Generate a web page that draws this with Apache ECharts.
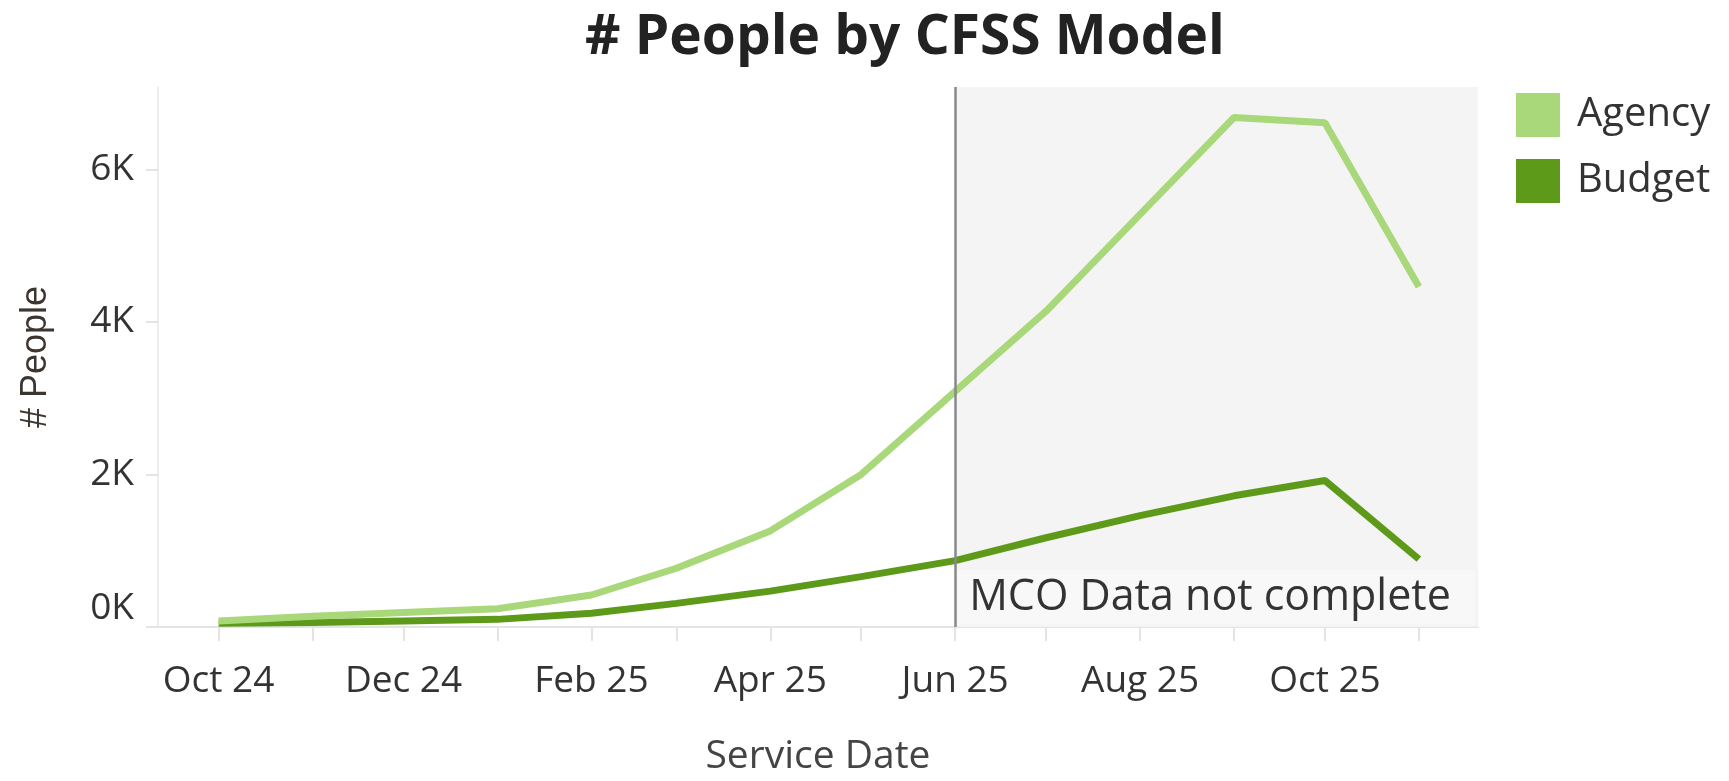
<!DOCTYPE html>
<html>
<head>
<meta charset="utf-8">
<title># People by CFSS Model</title>
<script src="https://cdn.jsdelivr.net/npm/echarts@6/dist/echarts.min.js"></script>
<style>
  html, body { margin: 0; padding: 0; background: #fff; }
  #chart { width: 1729px; height: 781px; }
</style>
</head>
<body>
<div id="chart"></div>
<script>
// months of service, first of each month
var months = ['2024-10', '2024-11', '2024-12', '2025-01', '2025-02', '2025-03', '2025-04',
  '2025-05', '2025-06', '2025-07', '2025-08', '2025-09', '2025-10', '2025-11']
var agency = [80, 140, 190, 240, 420, 770, 1260, 2000, 3090, 4140, 5410, 6680, 6610, 4460]
var budget = [50, 60, 80, 100, 180, 310, 470, 660, 870, 1170, 1460, 1720, 1920, 890]
var tickMonths = ['2024-10', '2024-12', '2025-02', '2025-04', '2025-06', '2025-08', '2025-10']
var yTicks = [0, 2000, 4000, 6000]
var mcoStart = '2025-06'
var monthNames = ['Jan', 'Feb', 'Mar', 'Apr', 'May', 'Jun', 'Jul', 'Aug', 'Sep', 'Oct', 'Nov', 'Dec']

function ts (m) {
  var p = m.split('-')
  return Date.UTC(+p[0], +p[1] - 1, 1)
}
function monthLabel (v) {
  var d = new Date(v)
  return monthNames[d.getUTCMonth()] + ' ' + String(d.getUTCFullYear()).slice(2)
}

var xMin = Date.UTC(2024, 8, 11)
var xMax = Date.UTC(2025, 10, 20, 12)
var font = 'Open Sans'

var chart = echarts.init(document.getElementById('chart'))
var option = {
  animation: false,
  title: {
    text: '# People by CFSS Model',
    left: 580,
    top: 6,
    textStyle: {
      fontFamily: font,
      fontSize: 55,
      fontWeight: 'bold',
      color: '#222'
    }
  },
  legend: {
    orient: 'vertical',
    left: 1511,
    top: 88,
    icon: 'rect',
    itemWidth: 44,
    itemHeight: 44,
    itemGap: 22,
    data: ['Agency', 'Budget'],
    textStyle: {
      fontFamily: font,
      fontSize: 40,
      color: '#333',
      padding: [0, 0, 0, 12]
    }
  },
  grid: {
    left: 158,
    right: 251,
    top: 87,
    bottom: 151
  },
  xAxis: {
    type: 'value',
    min: xMin,
    max: xMax,
    name: 'Service Date',
    nameLocation: 'middle',
    nameGap: 110,
    nameTextStyle: { fontFamily: font, fontSize: 39, color: '#444' },
    axisLine: { show: true, lineStyle: { color: '#e4e4e4', width: 2 } },
    axisTick: {
      show: true,
      length: 14,
      lineStyle: { color: '#e4e4e4', width: 2 },
      customValues: months.map(ts)
    },
    axisLabel: {
      customValues: tickMonths.map(ts),
      formatter: monthLabel,
      margin: 36,
      fontFamily: font,
      fontSize: 37,
      color: '#333'
    },
    splitLine: { show: false }
  },
  yAxis: {
    type: 'value',
    min: 0,
    max: 7080,
    name: '# People',
    nameLocation: 'middle',
    nameGap: 104,
    nameTextStyle: { fontFamily: 'Liberation Sans', fontSize: 36, color: '#3d3530' },
    axisLine: { show: true, lineStyle: { color: '#eeeeee', width: 2 } },
    axisTick: {
      show: true,
      length: 12,
      lineStyle: { color: '#e4e4e4', width: 2 },
      customValues: yTicks
    },
    axisLabel: {
      customValues: yTicks,
      formatter: function (v) { return (v / 1000) + 'K' },
      verticalAlignMinLabel: 'bottom',
      margin: 24,
      fontFamily: font,
      fontSize: 37,
      color: '#333'
    },
    splitLine: { show: false }
  },
  series: [
    {
      name: 'Budget',
      type: 'line',
      symbol: 'none',
      color: '#5e9a1a',
      lineStyle: { width: 7, color: '#5e9a1a' },
      data: months.map(function (m, i) { return [ts(m), budget[i]] }),
      markArea: {
        silent: true,
        itemStyle: { color: '#f4f4f4' },
        label: {
          show: true,
          position: 'insideBottomLeft',
          formatter: 'MCO Data not complete',
          fontFamily: font,
          fontSize: 43,
          color: '#333',
          backgroundColor: '#f8f8f8',
          width: 496,
          padding: [6, 10, 6, 12],
          distance: 2
        },
        data: [[{ xAxis: ts(mcoStart) }, { xAxis: xMax }]]
      },
      markLine: {
        silent: true,
        symbol: 'none',
        label: { show: false },
        lineStyle: { color: '#888888', width: 2.5, type: 'solid' },
        data: [{ xAxis: ts(mcoStart) }]
      }
    },
    {
      name: 'Agency',
      type: 'line',
      symbol: 'none',
      color: '#a9d87a',
      lineStyle: { width: 7, color: '#a9d87a' },
      data: months.map(function (m, i) { return [ts(m), agency[i]] })
    }
  ]
}
chart.setOption(option)
window.addEventListener('resize', function () { chart.resize() })
</script>
</body>
</html>
